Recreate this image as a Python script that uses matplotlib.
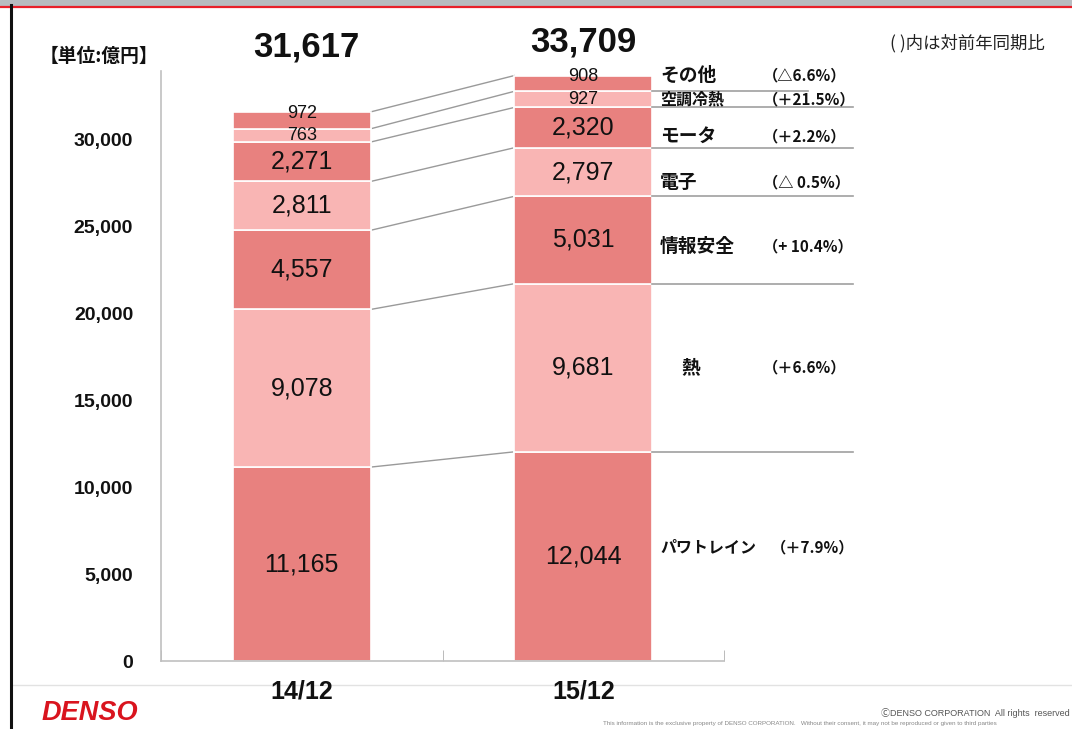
import matplotlib
matplotlib.use('Agg')
import matplotlib.pyplot as plt
from matplotlib.ticker import FuncFormatter
from matplotlib.lines import Line2D
from matplotlib.patches import Rectangle

# data (unit: 100 million yen)
periods = ['14/12', '15/12']
segments = ['パワトレイン', '熱', '情報安全', '電子', 'モータ', '空調冷熱', 'その他']
sales_1412 = [11165, 9078, 4557, 2811, 2271, 763, 972]
sales_1512 = [12044, 9681, 5031, 2797, 2320, 927, 908]
growth = ['（＋7.9%）', '（＋6.6%）', '（+ 10.4%）', '（△ 0.5%）', '（＋2.2%）', '（＋21.5%）', '（△6.6%）']
totals = ['31,617', '33,709']
yticks = [0, 5000, 10000, 15000, 20000, 25000, 30000]

W, H = 1072, 729
dark = '#E8817F'
light = '#F9B5B4'
colors = [dark, light, dark, light, dark, light, dark]
num_font = ['Liberation Sans', 'Noto Sans CJK JP', 'DejaVu Sans']
jp_font = ['Noto Sans CJK JP', 'DejaVu Sans']

fig = plt.figure(figsize=(W / 100, H / 100), dpi=100)
ax = fig.add_axes([161 / W, 1 - 661 / H, 563 / W, 590.5 / H])

bar_w = 0.49
tops = []
for i, vals in enumerate([sales_1412, sales_1512]):
    bottom = 0
    seg_tops = []
    for k, v in enumerate(vals):
        ax.bar(i, v, width=bar_w, bottom=bottom, color=colors[k],
               edgecolor='white', linewidth=1.2, zorder=2)
        mid = bottom + v / 2
        size = 18 if v > 2000 else 13
        dy = 0
        if k == len(vals) - 1:
            dy = 5  # top labels sit a bit high
        ax.annotate(f'{v:,}', (i, mid), xytext=(0, dy), textcoords='offset points',
                    ha='center', va='center', fontsize=size, family=num_font,
                    color='#111111', zorder=3)
        bottom += v
        seg_tops.append(bottom)
    tops.append(seg_tops)

# connectors between bars
for t1, t2 in zip(tops[0], tops[1]):
    ax.plot([bar_w / 2, 1 - bar_w / 2], [t1, t2], color='#9a9a9a', lw=1, zorder=1)

# separator lines on the right of the second bar
for k, t in enumerate(tops[1][:-1]):
    x_end = 1.798 if k == 5 else 1.958
    ax.plot([1 + bar_w / 2, x_end], [t, t], color='#a0a0a0', lw=1.2, clip_on=False)

# segment labels and growth rates
name_dy = [-9, 0, 6, 10, 9, 0, -8]   # pixel nudges
name_x = [1.273, 1.347, 1.273, 1.273, 1.273, 1.273, 1.273]
name_size = [11.5, 13.5, 13.5, 13.5, 13.5, 11.5, 13.5]
pct_x = [1.665, 1.639, 1.639, 1.639, 1.639, 1.639, 1.639]
bottom = 0
for k, v in enumerate(sales_1512):
    mid = bottom + v / 2
    bottom += v
    ax.annotate(segments[k], (name_x[k], mid), xytext=(0, -name_dy[k] * 0.72),
                textcoords='offset points', ha='left', va='center',
                fontsize=name_size[k], fontweight='bold', family=jp_font,
                color='#111111', annotation_clip=False)
    ax.annotate(growth[k], (pct_x[k], mid), xytext=(0, -name_dy[k] * 0.72),
                textcoords='offset points', ha='left', va='center',
                fontsize=11, fontweight='bold', family=jp_font,
                color='#111111', annotation_clip=False)

# totals above bars
total_dy = [35, 12]
for i, t in enumerate(totals):
    top = tops[i][-1]
    ax.annotate(t, (i, top), xytext=(3 if i == 0 else 0, total_dy[i]),
                textcoords='offset points', ha='center', va='bottom',
                fontsize=25, fontweight='bold', family=num_font,
                color='#111111', annotation_clip=False)

ax.set_xlim(-0.5, 1.5)
ax.set_ylim(0, 34000)
ax.set_yticks(yticks)
ax.yaxis.set_major_formatter(FuncFormatter(lambda v, p: f'{int(v):,}'))
ax.set_xticks([0, 1])
ax.set_xticklabels(periods)
ax.set_xticks([-0.5, 0.5, 1.5], minor=True)
ax.tick_params(axis='y', length=0, pad=20, labelsize=14)
ax.tick_params(axis='x', which='major', length=0, pad=13, labelsize=18)
ax.tick_params(axis='x', which='minor', direction='in', length=8, color='#b0b0b0')
for lab in ax.get_yticklabels() + ax.get_xticklabels():
    lab.set_family(num_font)
    lab.set_fontweight('bold')
    lab.set_color('#111111')
for s in ['top', 'right']:
    ax.spines[s].set_visible(False)
for s in ['left', 'bottom']:
    ax.spines[s].set_color('#c0c0c0')
    ax.spines[s].set_linewidth(1.2)

# page decorations
fig.add_artist(Rectangle((0, 1 - 5 / H), 1, 5 / H, transform=fig.transFigure,
                         color='#b8bcc0', zorder=0))
fig.add_artist(Line2D([0, 1], [1 - 6.5 / H] * 2, color='#e8202a', lw=1.6))
fig.add_artist(Line2D([11 / W] * 2, [0, 1 - 5 / H], color='#111111', lw=2.2))
fig.add_artist(Line2D([12 / W, 1], [1 - 685 / H] * 2, color='#e2e2e2', lw=1, zorder=-1))

fig.text(40 / W, 1 - 56 / H, '【単位:億円】', ha='left', va='center',
         fontsize=13.5, fontweight='bold', family=jp_font, color='#111111')
fig.text(890 / W, 1 - 43 / H, '( )内は対前年同期比', ha='left', va='center',
         fontsize=12.5, family=jp_font, color='#222222')
fig.text(42 / W, 1 - 713 / H, 'DENSO', ha='left', va='center', fontsize=19.5,
         fontweight='bold', style='italic', family=num_font, color='#d9141e')
fig.text(1070 / W, 1 - 713 / H, 'ⒸDENSO CORPORATION  All rights  reserved', ha='right',
         va='center', fontsize=6.5, family=num_font, color='#555555')
fig.text(603 / W, 1 - 724 / H,
         'This information is the exclusive property of DENSO CORPORATION.   Without their consent, '
         'it may not be reproduced or given to third parties',
         ha='left', va='center', fontsize=4.5, family=num_font, color='#888888')

fig.savefig('out.png', dpi=100, facecolor='white')
